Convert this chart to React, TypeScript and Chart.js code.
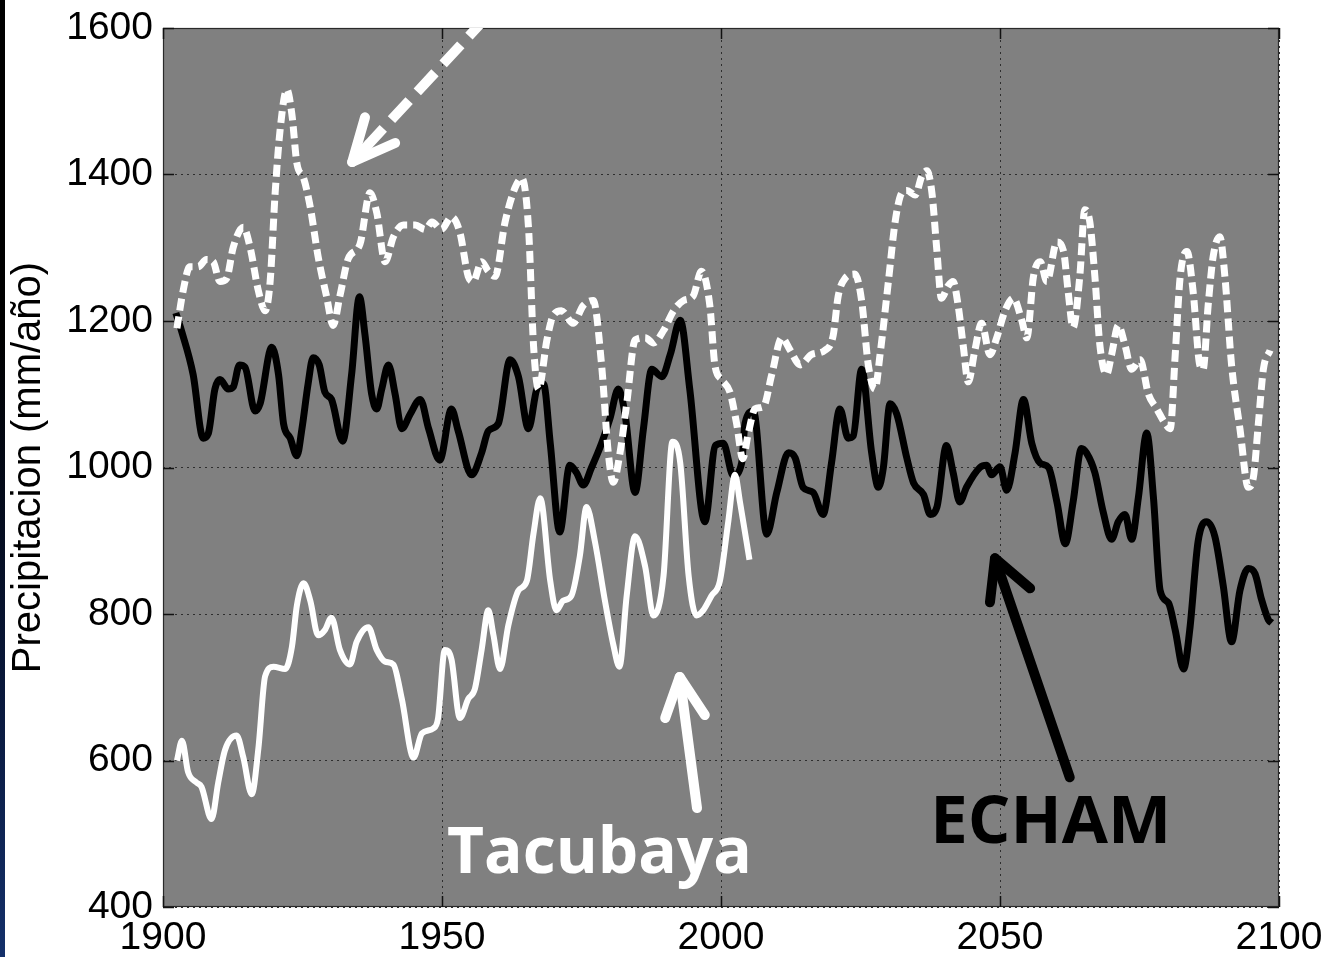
import React, { useEffect, useRef } from "react";
import { Chart, registerables } from "chart.js";

Chart.register(...registerables);

// ---- Data (year, precipitation mm/año) ----
const echamSeries: [number, number][] = [
  [1902.3, 1211], [1903.3, 1187], [1905.4, 1127], [1907.2, 1040], [1908.1, 1046], [1909.3, 1107],
  [1910.2, 1120], [1911.7, 1107], [1912.6, 1110], [1913.7, 1140], [1914.7, 1137], [1916.5, 1077],
  [1917.4, 1087], [1919.5, 1164], [1920.7, 1127], [1921.6, 1060], [1922.8, 1040], [1924.0, 1016],
  [1924.9, 1053], [1926.0, 1114], [1926.9, 1150], [1928.0, 1140], [1929.0, 1103], [1930.2, 1093],
  [1932.2, 1036], [1933.8, 1127], [1935.2, 1233], [1936.2, 1181], [1937.4, 1100], [1938.3, 1080],
  [1939.2, 1107], [1940.4, 1140], [1941.6, 1100], [1942.8, 1053], [1944.3, 1073], [1946.1, 1093],
  [1947.6, 1053], [1949.6, 1010], [1951.7, 1080], [1952.9, 1050], [1955.3, 990], [1957.1, 1020],
  [1958.3, 1050], [1960.1, 1060], [1962.2, 1147], [1963.7, 1124], [1965.5, 1053], [1967.0, 1107],
  [1968.2, 1114], [1969.4, 1033], [1971.1, 912], [1972.9, 1003], [1974.1, 993], [1975.3, 976],
  [1976.8, 1000], [1978.6, 1033], [1980.1, 1067], [1981.6, 1107], [1982.8, 1073], [1984.6, 966],
  [1986.1, 1053], [1987.6, 1134], [1989.4, 1124], [1990.9, 1154], [1992.7, 1201], [1994.4, 1107],
  [1997.1, 926], [1999.0, 1030], [2000.4, 1033], [2002.2, 989], [2003.7, 1006], [2004.3, 1060],
  [2005.8, 1077], [2008.2, 909], [2010.0, 966], [2012.1, 1020], [2013.3, 1013], [2014.7, 973],
  [2016.5, 966], [2018.3, 936], [2019.8, 1006], [2021.3, 1080], [2022.8, 1040], [2023.7, 1043],
  [2025.2, 1134], [2027.0, 1020], [2028.2, 973], [2029.1, 1000], [2030.3, 1087], [2031.5, 1073],
  [2033.3, 1013], [2034.5, 979], [2036.3, 963], [2037.5, 936], [2038.7, 946], [2040.4, 1030],
  [2041.6, 993], [2042.8, 953], [2044.0, 973], [2046.4, 1000], [2047.6, 1003], [2048.5, 990],
  [2050.0, 1001], [2051.2, 969], [2052.7, 1020], [2054.2, 1093], [2055.7, 1033], [2057.2, 1006],
  [2058.7, 1000], [2060.2, 953], [2061.7, 896], [2063.1, 953], [2064.6, 1026], [2065.5, 1020],
  [2067.0, 993], [2068.5, 939], [2070.0, 902], [2071.2, 926], [2072.4, 936], [2073.6, 902],
  [2074.8, 959], [2076.3, 1047], [2077.5, 959], [2078.7, 832], [2080.2, 815], [2081.4, 778],
  [2082.9, 725], [2084.0, 778], [2085.5, 899], [2087.0, 926], [2088.5, 906], [2090.0, 839],
  [2091.5, 762], [2093.0, 832], [2094.5, 862], [2095.7, 855], [2096.9, 819], [2098.1, 792],
  [2098.7, 788],
];

const dashedSeries: [number, number][] = [
  [1902.5, 1190], [1903.6, 1241], [1904.8, 1274], [1906.3, 1274], [1907.8, 1284], [1909.0, 1281],
  [1910.2, 1254], [1911.4, 1258], [1912.6, 1301], [1914.4, 1328], [1915.6, 1301], [1917.1, 1241],
  [1918.3, 1214], [1919.2, 1254], [1920.1, 1375], [1921.0, 1462], [1922.2, 1516], [1923.1, 1482],
  [1924.0, 1415], [1925.2, 1395], [1926.4, 1355], [1927.8, 1288], [1929.3, 1234], [1930.5, 1194],
  [1931.7, 1234], [1933.2, 1285], [1935.3, 1305], [1937.1, 1375], [1938.3, 1348], [1939.8, 1281],
  [1941.3, 1315], [1943.1, 1331], [1945.2, 1331], [1947.0, 1325], [1948.2, 1335], [1949.9, 1325],
  [1951.7, 1342], [1953.2, 1321], [1954.7, 1261], [1955.6, 1254], [1957.1, 1281], [1958.3, 1268],
  [1959.5, 1261], [1961.3, 1335], [1963.1, 1382], [1964.3, 1395], [1965.5, 1328], [1966.4, 1167],
  [1967.3, 1107], [1968.8, 1174], [1969.9, 1207], [1971.4, 1214], [1973.5, 1197], [1975.3, 1221],
  [1977.1, 1228], [1978.6, 1140], [1979.8, 1020], [1980.7, 980], [1981.9, 1020], [1983.1, 1087],
  [1984.6, 1174], [1986.4, 1177], [1987.9, 1170], [1989.7, 1187], [1991.5, 1214], [1993.3, 1228],
  [1995.0, 1234], [1996.5, 1268], [1998.0, 1221], [1998.9, 1140], [2000.1, 1120], [2001.6, 1103],
  [2002.8, 1060], [2003.9, 1012], [2004.9, 1047], [2006.1, 1080], [2007.6, 1083], [2009.1, 1127],
  [2010.9, 1177], [2012.4, 1160], [2014.2, 1140], [2016.2, 1154], [2018.6, 1160], [2020.1, 1180],
  [2021.0, 1234], [2022.2, 1258], [2024.0, 1264], [2025.2, 1228], [2026.4, 1140], [2027.6, 1107],
  [2028.5, 1154], [2030.0, 1254], [2031.2, 1335], [2032.4, 1375], [2033.3, 1378], [2034.8, 1372],
  [2036.0, 1398], [2036.9, 1405], [2037.8, 1375], [2038.7, 1295], [2039.5, 1231], [2040.7, 1248],
  [2041.6, 1254], [2042.5, 1221], [2043.4, 1167], [2044.3, 1117], [2045.5, 1160], [2046.7, 1197],
  [2048.2, 1154], [2049.4, 1177], [2050.9, 1214], [2052.4, 1231], [2053.9, 1201], [2054.8, 1177],
  [2056.0, 1261], [2057.2, 1281], [2058.4, 1254], [2060.2, 1308], [2061.4, 1295], [2062.2, 1241],
  [2063.1, 1191], [2064.3, 1261], [2065.2, 1352], [2066.1, 1335], [2067.0, 1261], [2067.9, 1167],
  [2069.1, 1127], [2070.0, 1154], [2071.2, 1194], [2072.4, 1167], [2073.6, 1134], [2075.1, 1147],
  [2076.6, 1100], [2078.1, 1080], [2079.6, 1060], [2080.5, 1053], [2081.4, 1154], [2082.3, 1261],
  [2083.5, 1295], [2084.6, 1241], [2085.8, 1140], [2086.4, 1134], [2087.3, 1221], [2088.2, 1288],
  [2089.4, 1315], [2090.3, 1261], [2091.5, 1140], [2093.0, 1053], [2094.5, 973], [2095.4, 986],
  [2096.3, 1060], [2097.2, 1134], [2098.4, 1160],
];

const tacubayaSeries: [number, number][] = [
  [1902.5, 600], [1903.4, 627], [1904.5, 584], [1906.0, 570], [1906.9, 564], [1908.7, 520],
  [1909.9, 570], [1911.1, 614], [1913.2, 634], [1914.4, 604], [1915.9, 554], [1917.1, 617],
  [1918.3, 715], [1919.8, 728], [1921.9, 725], [1923.1, 755], [1924.0, 812], [1925.2, 842],
  [1926.4, 818], [1927.8, 771], [1929.0, 778], [1930.2, 795], [1931.7, 751], [1933.5, 731],
  [1934.7, 762], [1936.8, 782], [1938.3, 751], [1939.8, 735], [1941.3, 731], [1942.8, 684],
  [1944.9, 604], [1946.4, 637], [1948.5, 644], [1949.3, 658], [1950.5, 751], [1951.7, 738],
  [1953.2, 658], [1954.7, 684], [1955.9, 698], [1957.1, 751], [1958.3, 805], [1959.2, 772],
  [1960.4, 725], [1961.9, 785], [1963.7, 832], [1965.2, 845], [1966.4, 910], [1967.6, 958],
  [1969.4, 845], [1970.5, 805], [1971.7, 818], [1973.2, 825], [1974.7, 879], [1975.9, 946],
  [1977.4, 899], [1979.2, 818], [1980.7, 758], [1981.8, 728], [1983.1, 825], [1984.6, 906],
  [1986.4, 865], [1987.9, 798], [1989.7, 852], [1991.3, 1035], [1992.7, 1006], [1994.2, 852],
  [1995.6, 798], [1996.8, 805], [1998.3, 825], [1999.8, 845], [2001.3, 926], [2002.5, 990],
  [2003.4, 953], [2005.1, 874],
];

const xTickValues = [1900, 1950, 2000, 2050, 2100];
const yTickValues = [400, 600, 800, 1000, 1200, 1400, 1600];
const yAxisTitle = "Precipitacion (mm/año)";
const tacubayaLabel = "Tacubaya";
const echamLabel = "ECHAM";

// Annotation anchors in data units (year, mm/año)
const tacubayaText = { x: 1950.9, y: 446 };
const echamText = { x: 2037.5, y: 487 };
const tacubayaArrow = { tail: [1995.7, 535], tip: [1992.6, 714], wingA: [1990.0, 658], wingB: [1997.1, 662] };
const echamArrow = { tail: [2062.5, 577], tip: [2049.1, 876], wingA: [2048.2, 816], wingB: [2055.4, 835] };
const dashedArrow = { tail: [1958.0, 1615], tip: [1933.9, 1417], wingA: [1936.2, 1478], wingB: [1941.6, 1443] };

const toXY = (s: [number, number][]) => s.map(([x, y]) => ({ x, y }));

const decorPlugin = {
  id: "decor",
  beforeDraw(chart: any) {
    const { ctx, chartArea: a } = chart;
    ctx.save();
    ctx.fillStyle = "#808080";
    ctx.fillRect(a.left, a.top, a.right - a.left, a.bottom - a.top);
    ctx.restore();
  },
  afterDatasetsDraw(chart: any) {
    const { ctx, chartArea: a, scales } = chart;
    const sx = scales.x;
    const sy = scales.y;
    const P = (p: number[]) => [sx.getPixelForValue(p[0]), sy.getPixelForValue(p[1])];

    ctx.save();
    // frame
    ctx.strokeStyle = "#2a2a2a";
    ctx.lineWidth = 1.2;
    ctx.strokeRect(a.left + 0.5, a.top + 0.5, a.right - a.left - 1, a.bottom - a.top - 1);
    // inside ticks
    ctx.strokeStyle = "#111";
    ctx.lineWidth = 1.5;
    const tl = 11;
    ctx.beginPath();
    yTickValues.forEach((v) => {
      const y = Math.round(sy.getPixelForValue(v)) + 0.5;
      ctx.moveTo(a.left, y); ctx.lineTo(a.left + tl, y);
      ctx.moveTo(a.right, y); ctx.lineTo(a.right - tl, y);
    });
    xTickValues.forEach((v) => {
      const x = Math.round(sx.getPixelForValue(v)) + 0.5;
      ctx.moveTo(x, a.bottom); ctx.lineTo(x, a.bottom - tl);
      ctx.moveTo(x, a.top); ctx.lineTo(x, a.top + tl);
    });
    ctx.stroke();

    // arrows
    const drawArrow = (arr: any, color: string, dashed: boolean) => {
      const t = P(arr.tail), h = P(arr.tip), wa = P(arr.wingA), wb = P(arr.wingB);
      ctx.save();
      ctx.beginPath();
      ctx.rect(a.left, a.top, a.right - a.left, a.bottom - a.top);
      ctx.clip();
      ctx.strokeStyle = color;
      ctx.lineWidth = 10;
      ctx.lineJoin = "round";
      if (dashed) {
        ctx.lineCap = "butt";
        ctx.setLineDash([26, 12]);
        ctx.beginPath();
        ctx.moveTo(t[0], t[1]);
        ctx.lineTo(h[0] + (t[0] - h[0]) * 0.12, h[1] + (t[1] - h[1]) * 0.12);
        ctx.stroke();
        ctx.setLineDash([]);
        ctx.lineCap = "round";
        ctx.beginPath();
        ctx.moveTo(h[0] + (t[0] - h[0]) * 0.12, h[1] + (t[1] - h[1]) * 0.12);
        ctx.lineTo(h[0], h[1]);
        ctx.stroke();
      } else {
        ctx.lineCap = "round";
        ctx.beginPath();
        ctx.moveTo(t[0], t[1]);
        ctx.lineTo(h[0], h[1]);
        ctx.stroke();
      }
      ctx.lineCap = "round";
      ctx.beginPath();
      ctx.moveTo(wa[0], wa[1]);
      ctx.lineTo(h[0], h[1]);
      ctx.lineTo(wb[0], wb[1]);
      ctx.stroke();
      ctx.restore();
    };
    drawArrow(tacubayaArrow, "#ffffff", false);
    drawArrow(echamArrow, "#000000", false);
    drawArrow(dashedArrow, "#ffffff", true);

    // labels
    ctx.textBaseline = "alphabetic";
    ctx.textAlign = "left";
    ctx.font = "bold 64px 'Open Sans', 'Noto Sans', sans-serif";
    ctx.fillStyle = "#ffffff";
    const tp = P([tacubayaText.x, tacubayaText.y]);
    ctx.fillText(tacubayaLabel, tp[0], tp[1]);
    ctx.font = "bold 67px 'Open Sans', 'Noto Sans', sans-serif";
    ctx.fillStyle = "#000000";
    const ep = P([echamText.x, echamText.y]);
    ctx.fillText(echamLabel, ep[0], ep[1]);
    ctx.restore();
  },
};

export default function App() {
  const ref = useRef<HTMLCanvasElement | null>(null);

  useEffect(() => {
    document.body.style.margin = "0";
    if (!ref.current) return;
    const tickFont = { family: "'Liberation Sans', Arial, sans-serif", size: 39 };
    const chart = new Chart(ref.current, {
      type: "line",
      data: {
        datasets: [
          {
            label: "Tacubaya",
            data: toXY(tacubayaSeries),
            borderColor: "#ffffff",
            borderWidth: 6,
            pointRadius: 0,
            cubicInterpolationMode: "monotone",
            borderJoinStyle: "round",
            order: 0,
          },
          {
            label: "Modelo",
            data: toXY(dashedSeries),
            borderColor: "#ffffff",
            borderWidth: 7,
            borderDash: [12, 6],
            pointRadius: 0,
            cubicInterpolationMode: "monotone",
            order: 1,
          },
          {
            label: "ECHAM",
            data: toXY(echamSeries),
            borderColor: "#000000",
            borderWidth: 7,
            pointRadius: 0,
            cubicInterpolationMode: "monotone",
            borderJoinStyle: "round",
            order: 2,
          },
        ],
      },
      options: {
        responsive: false,
        animation: false,
        devicePixelRatio: 1,
        layout: { padding: { top: 28, right: 45, left: 0, bottom: 0 } },
        plugins: { legend: { display: false }, tooltip: { enabled: false }, title: { display: false } },
        scales: {
          x: {
            type: "linear",
            min: 1900,
            max: 2100,
            afterBuildTicks: (scale: any) => {
              scale.ticks = xTickValues.map((v) => ({ value: v }));
            },
            afterFit: (scale: any) => {
              scale.height = 50;
              scale.paddingLeft = 0;
              scale.paddingRight = 0;
            },
            ticks: {
              font: tickFont,
              color: "#000",
              padding: 8,
              maxRotation: 0,
              autoSkip: false,
              callback: (v: any) => String(v),
            },
            grid: { color: "#2e2e2e", lineWidth: 1, drawTicks: false },
            border: { display: false, dash: [2, 4] },
          },
          y: {
            type: "linear",
            min: 400,
            max: 1600,
            afterBuildTicks: (scale: any) => {
              scale.ticks = yTickValues.map((v) => ({ value: v }));
            },
            afterFit: (scale: any) => {
              scale.width = 163;
              scale.paddingTop = 0;
              scale.paddingBottom = 0;
            },
            ticks: {
              font: tickFont,
              color: "#000",
              padding: 10,
              autoSkip: false,
              callback: (v: any) => String(v),
            },
            title: {
              display: true,
              text: yAxisTitle,
              color: "#000",
              font: { family: "'Liberation Sans', Arial, sans-serif", size: 40 },
              padding: { top: 5, bottom: 0 },
            },
            grid: { color: "#2e2e2e", lineWidth: 1, drawTicks: false },
            border: { display: false, dash: [2, 4] },
          },
        },
      },
      plugins: [decorPlugin],
    });
    return () => chart.destroy();
  }, []);

  return (
    <div style={{ position: "fixed", left: 0, top: 0, width: 1324, height: 957, background: "#ffffff" }}>
      <canvas ref={ref} width={1324} height={957} style={{ display: "block" }} />
      <div
        style={{
          position: "absolute",
          left: 0,
          top: 0,
          width: 5,
          height: 957,
          background: "linear-gradient(to bottom, #000000 0%, #000000 35%, #0a1a40 75%, #14306a 100%)",
        }}
      />
    </div>
  );
}
